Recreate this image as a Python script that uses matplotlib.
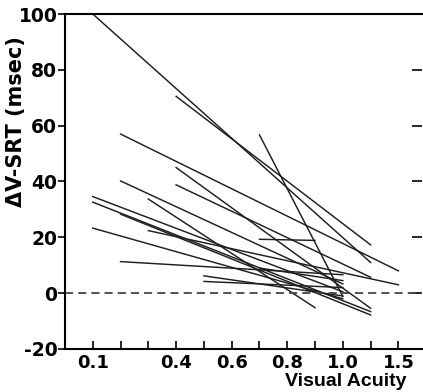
import numpy as np
import matplotlib
matplotlib.use("Agg")
import matplotlib.pyplot as plt

# visual acuity scale (equally spaced steps)
acuity_steps = [0.1, 0.2, 0.3, 0.4, 0.5, 0.6, 0.7, 0.8, 0.9, 1.0, 1.2, 1.5]
tick_labels = ["0.1", "", "", "0.4", "", "0.6", "", "0.8", "", "1.0", "", "1.5"]

# each subject: acuity start/end and delta V-SRT start/end (msec)
acuity_start = [0.1, 0.4, 0.2, 0.4, 0.2, 0.4, 0.1, 0.3, 0.1, 0.2, 0.3, 0.1,
                0.2, 0.5, 0.5, 0.7, 0.7, 0.7]
acuity_end = [1.2, 1.2, 1.5, 1.2, 1.0, 1.2, 1.0, 0.9, 1.2, 1.2, 1.5, 1.0,
              1.0, 1.0, 1.0, 1.0, 0.9, 1.0]
srt_start = [100, 70.5, 57, 45, 40.2, 38.8, 34.6, 33.7, 32.6, 28.3, 22.4, 23.3,
             11.3, 6.2, 4.2, 56.7, 19.3, 9]
srt_end = [11, 17.3, 8, -5.4, 3.3, 5.7, 0.5, -5.2, -6.6, -7.8, 3, -2,
           6.6, -1, 2, -1.2, 18.9, 4.5]

idx = np.arange(len(acuity_steps), dtype=float)
acu = np.array(acuity_steps)


def fwd(x):
    x = np.asarray(x, dtype=float)
    y = np.interp(x, acu, idx)
    y = np.where(x < acu[0], (x - acu[0]) / 0.1, y)
    y = np.where(x > acu[-1], idx[-1] + (x - acu[-1]) / 0.3, y)
    return y


def inv(y):
    y = np.asarray(y, dtype=float)
    x = np.interp(y, idx, acu)
    x = np.where(y < 0, acu[0] + y * 0.1, x)
    x = np.where(y > idx[-1], acu[-1] + (y - idx[-1]) * 0.3, x)
    return x


plt.rcParams['font.family'] = ['DejaVu Sans']
plt.rcParams['font.weight'] = 'bold'

fig = plt.figure(figsize=(4.23, 3.92), dpi=100)
ax = fig.add_axes([65 / 423, 1 - 349 / 392, 357 / 423, 335 / 392])
ax.set_xscale('function', functions=(fwd, inv))

for xs, xe, ys, ye in zip(acuity_start, acuity_end, srt_start, srt_end):
    ax.plot([xs, xe], [ys, ye], color='#1e1e1e', lw=1.05)

ax.axhline(0, color='#444444', lw=1.3, dashes=(4.5, 2.8))

ax.set_xlim(inv(-1.0), inv(11.85))
ax.set_ylim(-20, 100)
ax.set_xticks(acuity_steps)
ax.set_xticklabels(tick_labels)
ax.set_yticks([-20, 0, 20, 40, 60, 80, 100])
ax.set_yticklabels(['-20', '0', '20', '40', '60', '80', '100'])

ax.tick_params(axis='x', direction='in', length=6, width=1.2, labelsize=13, pad=3.5)
ax.tick_params(axis='y', direction='out', length=5, width=1.2, labelsize=13.5, pad=0.5)
ax.tick_params(axis='y', which='both', right=True, labelright=False)
for t in ax.yaxis.get_major_ticks():
    t.tick2line.set_marker(matplotlib.lines.TICKLEFT)
    t.tick2line.set_markersize(7)

for s in ['left', 'bottom', 'top']:
    ax.spines[s].set_linewidth(1.5)
ax.spines['right'].set_visible(False)

fig.text(16 / 423, 1 - 122 / 392, '\u0394V-SRT (msec)', rotation=90, fontsize=15,
         fontweight='bold', ha='center', va='center')
fig.text(406 / 423, 1 - 386.5 / 392, 'Visual Acuity', fontsize=14,
         fontweight='bold', ha='right', va='baseline', family='Liberation Sans')

fig.savefig('out.png', dpi=100)
